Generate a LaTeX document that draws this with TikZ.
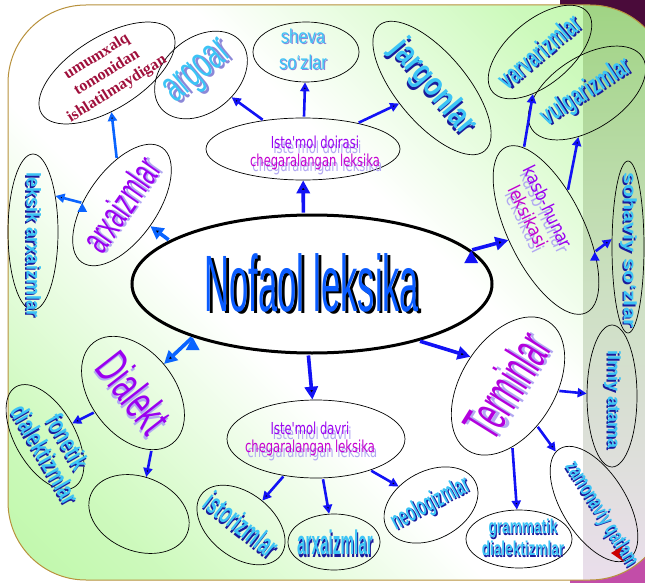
\documentclass[tikz,border=0pt]{standalone}
\usepackage{fontspec}
\setmainfont{Liberation Sans}
\newfontfamily\tahfont{DejaVu Sans}
\newfontfamily\serfont{Liberation Serif}
\usepackage{graphicx}
\usetikzlibrary{arrows.meta,shapes.geometric}

\definecolor{nblue}{HTML}{0A5CFF}
\definecolor{cyanT}{HTML}{3CC4F6}
\definecolor{navyS}{HTML}{1A1A9C}
\definecolor{lavS}{HTML}{B2A8F2}
\definecolor{purS}{HTML}{8C88D8}
\definecolor{purT}{HTML}{9A00F0}
\definecolor{magT}{HTML}{C400D0}
\definecolor{redT}{HTML}{A0103C}
\definecolor{arrB}{HTML}{1212F5}
\definecolor{arrL}{HTML}{0A64FF}
\definecolor{bgG}{RGB}{165,245,135}
\definecolor{stripT}{RGB}{160,212,132}
\definecolor{stripM}{RGB}{205,224,195}
\definecolor{stripB}{RGB}{234,222,236}
\definecolor{cornD}{HTML}{4A0B3A}
\definecolor{cornM}{HTML}{C24DA8}
\definecolor{frameC}{HTML}{B8913C}
\pgfdeclarehorizontalshading{bgsh}{100bp}{color(0bp)=(bgG); color(24bp)=(bgG!55!white);
  color(42bp)=(white); color(58bp)=(white); color(76bp)=(bgG!55!white); color(100bp)=(bgG)}

\def\shx{0.07em}\def\shy{0.07em}
\def\lc#1{\color{#1}}
\newcommand{\shtxt}[3]{\rlap{\kern\shx\raisebox{-\shy}{\def\lc##1{}\color{#2}#3}}{\color{#1}#3}}
\newcommand{\wa}[6]{\scalebox{#1}[1]{\fontsize{#2}{#3}\selectfont\shtxt{#4}{#5}{#6}}}
\newcommand{\twol}[2]{\begin{tabular}{@{}c@{}}#1\\#2\end{tabular}}
\NewDocumentCommand{\zbox}{O{0pt}O{0pt}m}{\makebox[0pt]{\hspace*{#1}\raisebox{\dimexpr(\depth-\height)/2+#2\relax}[0pt][0pt]{#3}}}

\begin{document}
\begin{tikzpicture}[x=1pt,y=1pt,
  ell/.style={draw, ellipse, line width=0.7pt, inner sep=0pt},
  arr/.style={draw=arrB, line width=2.6pt, -{Triangle[length=9pt,width=9pt]}, shorten <=1pt},
  big/.style={arr, line width=3.6pt, -{Triangle[length=13pt,width=13pt]}}]
  \useasboundingbox (0,0) rectangle (645,-583);
  \fill[cornD] (560,0) rectangle (645,-50);
  \fill[cornM] (570,-520) rectangle (645,-583);
  \shade[rounded corners=78pt, shading=bgsh, shading angle=45] (8,-5) rectangle (668,-580);
  \begin{scope}
    \clip[rounded corners=78pt] (8,-5) rectangle (668,-580);
    \shade[top color=stripT, bottom color=stripB, middle color=stripM] (583,-5) rectangle (668,-580);
  \end{scope}
  \draw[frameC, line width=1pt, rounded corners=78pt] (8,-5) rectangle (668,-580);

  \node[ell, line width=3pt, minimum width=360pt, minimum height=138pt] (main) at (312,-284)
    {\zbox{\def\shx{0.08em}\def\shy{0.03em}\wa{0.43}{80}{80}{nblue}{black}{Nofaol leksika}}};
  \node[ell, minimum width=194pt, minimum height=62pt] (topc) at (303,-149)
    {\zbox[24pt][-7pt]{\def\shx{0.2em}\def\shy{0.3em}\wa{0.7}{16.5}{18}{purT}{lavS}{\tahfont\twol{Iste'mol doirasi}{\lc{magT}chegaralangan leksika}}}};
  \node[ell, minimum width=106pt, minimum height=60pt] (sheva) at (306,-52)
    {\zbox[-6pt]{\wa{0.83}{20}{26}{cyanT}{purS}{\twol{sheva}{so‘zlar}}}};
  \node[ell, rotate=40, minimum width=104pt, minimum height=74pt] (argo) at (201,-75)
    {\zbox{\def\shx{0.06em}\wa{0.58}{45}{45}{cyanT}{purS}{argoar}}};
  \node[ell, rotate=-50, minimum width=164pt, minimum height=70pt] (jarg) at (432,-88)
    {\zbox{\wa{0.78}{34}{34}{cyanT}{navyS}{\bfseries jargonlar}}};
  \node[ell, rotate=32, minimum width=154pt, minimum height=72pt] (umum) at (107,-73)
    {\zbox{\fontsize{16}{19}\selectfont\serfont\bfseries\color{redT}\begin{tabular}{@{}c@{}}umumxalq\\tomonidan\\ishlatilmaydigan\end{tabular}}};
  \node[ell, rotate=55, minimum width=140pt, minimum height=70pt] (arx) at (122,-205)
    {\zbox{\def\shx{0.06em}\def\shy{0.05em}\wa{0.57}{40}{40}{purT}{lavS}{arxaizmlar}}};
  \node[ell, minimum width=50pt, minimum height=156pt] (lvert) at (33,-232)
    {\zbox[0pt][-13pt]{\rotatebox{-90}{\wa{0.9}{20}{20}{cyanT}{navyS}{\bfseries leksik arxaizmlar}}}};
  \node[ell, rotate=-52, minimum width=128pt, minimum height=84pt] (dial) at (133,-393)
    {\zbox{\def\shx{0.06em}\def\shy{0.05em}\wa{0.6}{48}{48}{purT}{lavS}{Dialekt}}};
  \node[ell, rotate=-60, minimum width=116pt, minimum height=60pt] (fon) at (45,-437)
    {\zbox[30pt]{\wa{0.7}{26}{24}{cyanT}{navyS}{\bfseries\twol{fonetik}{dialektizmlar}}}};
  \node[ell, rotate=-22, minimum width=104pt, minimum height=74pt] (emp) at (139,-514) {};
  \node[ell, minimum width=178pt, minimum height=78pt] (topd) at (316,-439)
    {\zbox[-12pt][-3pt]{\def\shx{0.2em}\def\shy{0.3em}\wa{0.7}{16.5}{18}{purT}{lavS}{\tahfont\twol{Iste'mol davri}{\lc{magT}chegaralangan leksika}}}};
  \node[ell, rotate=-38, minimum width=100pt, minimum height=64pt] (istor) at (241,-525)
    {\zbox{\wa{0.56}{30}{30}{cyanT}{navyS}{\bfseries istorizmlar}}};
  \node[ell, minimum width=92pt, minimum height=56pt] (arx2) at (334,-542)
    {\zbox[2pt][-2pt]{\wa{0.45}{34}{34}{cyanT}{navyS}{\bfseries arxaizmlar}}};
  \node[ell, rotate=28, minimum width=100pt, minimum height=68pt] (neo) at (431,-505)
    {\zbox{\wa{0.53}{26}{26}{cyanT}{navyS}{\bfseries neologizmlar}}};
  \node[ell, rotate=58, minimum width=152pt, minimum height=94pt] (term) at (508,-386)
    {\zbox{\def\shx{0.06em}\def\shy{0.05em}\wa{0.5}{55}{55}{magT!60!purT}{lavS}{Terminlar}}};
  \node[ell, minimum width=106pt, minimum height=58pt] (gram) at (519,-539)
    {\zbox[8pt][-2pt]{\wa{0.68}{20}{22}{cyanT}{navyS}{\bfseries\twol{grammatik}{dialektizmlar}}}};
  \node[ell, rotate=-58, minimum width=130pt, minimum height=64pt] (zam) at (594,-504)
    {\zbox[25pt]{\wa{0.63}{22}{22}{cyanT}{navyS}{\bfseries zamonaviy qatlam}}};
  \node[ell, minimum width=50pt, minimum height=142pt] (rv2) at (612,-396)
    {\zbox[0pt][-4pt]{\rotatebox{-90}{\wa{1}{18}{18}{cyanT}{navyS}{\bfseries ilmiy atama}}}};
  \node[ell, minimum width=32pt, minimum height=172pt] (rv1) at (628,-247)
    {\zbox[0pt][-3pt]{\rotatebox{-90}{\wa{1.2}{18}{18}{cyanT}{navyS}{\bfseries sohaviy so‘zlar}}}};
  \node[ell, rotate=-64, minimum width=184pt, minimum height=76pt] (kasb) at (546,-230)
    {\zbox[-40pt][-4pt]{\def\shx{0.2em}\def\shy{0.3em}\wa{0.88}{18}{22}{purT}{lavS}{\tahfont\twol{kasb-hunar}{\lc{magT}leksikasi}}}};
  \node[ell, rotate=40, minimum width=124pt, minimum height=64pt] (varv) at (540,-52)
    {\zbox{\wa{0.6}{28}{28}{cyanT}{navyS}{\bfseries varvarizmlar}}};
  \node[ell, rotate=33, minimum width=132pt, minimum height=72pt] (vulg) at (587,-93)
    {\zbox{\wa{0.62}{28}{28}{cyanT}{navyS}{\bfseries vulgarizmlar}}};
  \fill[red!80!black] (611,-553) -- (623,-546) -- (619,-554) -- (624,-562) -- cycle;

  \path[big] (main.97) edge (topc)
    (main.-93) edge (topd)
    (main.-28) edge (term.84)
    (main.12) edge (kasb);
  \path[big, draw=arrL] (main.163) edge (arx)
    (main.204) edge (dial);
  \path[arr] (topc) edge (sheva)
    (topc) edge (argo)
    (topc) edge (jarg)
    (topd) edge (istor)
    (topd) edge (arx2)
    (topd) edge (neo)
    (dial) edge (fon)
    (dial.-20) edge (emp)
    (term) edge (gram)
    (term) edge (zam)
    (term) edge (rv2)
    (kasb.169) edge (varv)
    (kasb.125) edge (vulg)
    (kasb.40) edge (rv1.154);
  \path[arr, draw=arrL] (arx) edge (umum)
    (arx.122) edge (lvert.58);
\end{tikzpicture}
\end{document}
